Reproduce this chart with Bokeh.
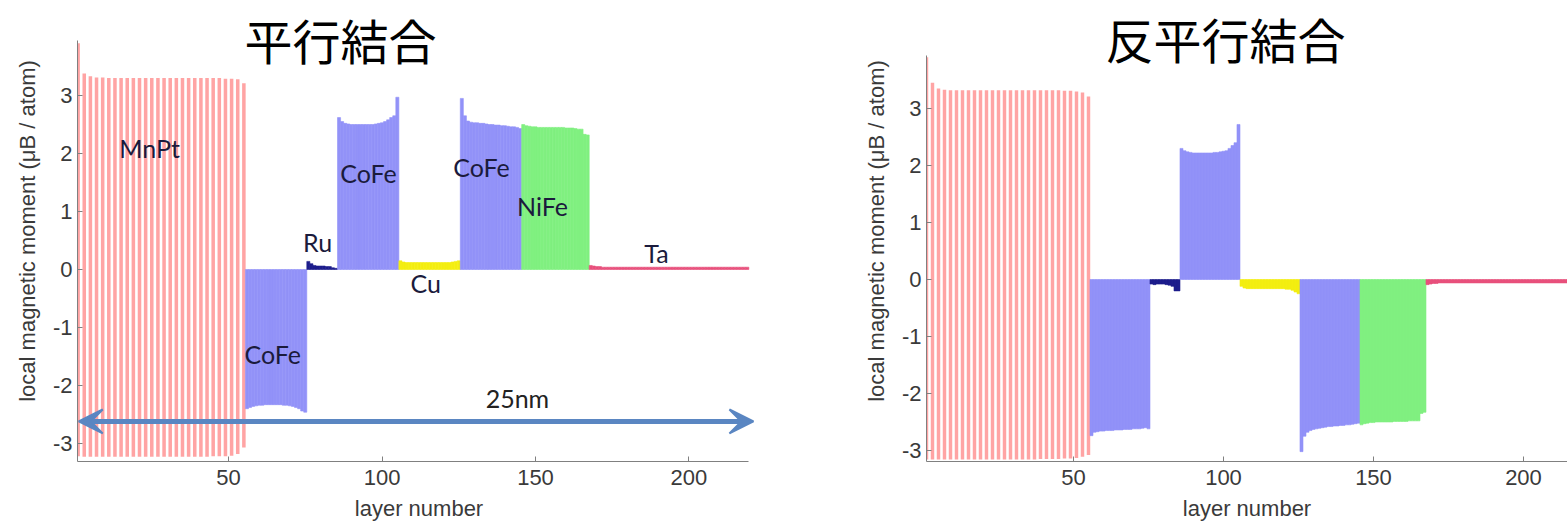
from bokeh.plotting import figure
from bokeh.layouts import row
from bokeh.models import Label, Arrow, VeeHead, FixedTicker, Range1d, PrintfTickFormatter
from bokeh.embed import file_html
from bokeh.resources import INLINE

# ---------------- data ----------------
x_ticks = [50, 100, 150, 200]
y_ticks = [-3, -2, -1, 0, 1, 2, 3]

# MnPt (Mn layers every other layer, up/down moments)
mnpt_layers = list(range(1, 56, 2))
mnpt_up_par = [3.90, 3.38, 3.33, 3.31, 3.31, 3.30, 3.30, 3.30, 3.30, 3.30, 3.30, 3.30, 3.30, 3.30,
               3.30, 3.30, 3.30, 3.30, 3.30, 3.30, 3.30, 3.30, 3.30, 3.30, 3.29, 3.29, 3.28, 3.21]
mnpt_dn_par = [-3.22, -3.23, -3.23, -3.23, -3.23, -3.23, -3.23, -3.23, -3.23, -3.23, -3.23, -3.23, -3.23, -3.23,
               -3.23, -3.23, -3.23, -3.23, -3.23, -3.23, -3.23, -3.23, -3.22, -3.22, -3.22, -3.21, -3.18, -3.07]
mnpt_up_anti = [3.90, 3.45, 3.35, 3.33, 3.32, 3.32, 3.32, 3.32, 3.32, 3.32, 3.32, 3.32, 3.32, 3.32,
                3.32, 3.32, 3.32, 3.32, 3.32, 3.32, 3.32, 3.32, 3.32, 3.31, 3.31, 3.30, 3.28, 3.21]
mnpt_dn_anti = [-3.16, -3.16, -3.16, -3.16, -3.16, -3.16, -3.16, -3.16, -3.16, -3.16, -3.16, -3.16, -3.16, -3.16,
                -3.16, -3.16, -3.16, -3.16, -3.16, -3.15, -3.15, -3.15, -3.15, -3.14, -3.14, -3.13, -3.11, -3.08]

# CoFe pinned layer
cofe1_layers = list(range(56, 76))
cofe1_par = [-2.40, -2.38, -2.36, -2.35, -2.34, -2.34, -2.33, -2.33, -2.33, -2.33,
             -2.33, -2.33, -2.34, -2.34, -2.35, -2.36, -2.38, -2.40, -2.44, -2.46]
cofe1_anti = [-2.74, -2.68, -2.67, -2.66, -2.66, -2.65, -2.65, -2.65, -2.64, -2.64,
              -2.64, -2.63, -2.63, -2.63, -2.62, -2.62, -2.62, -2.61, -2.60, -2.62]

# Ru spacer
ru_layers = list(range(76, 86))
ru_par = [0.14, 0.10, 0.07, 0.06, 0.06, 0.06, 0.05, 0.05, 0.03, 0.02]
ru_anti = [-0.08, -0.09, -0.08, -0.08, -0.08, -0.09, -0.10, -0.12, -0.20, -0.20]

# CoFe reference layer
cofe2_layers = list(range(86, 106))
cofe2_par = [2.62, 2.55, 2.52, 2.51, 2.50, 2.50, 2.50, 2.50, 2.50, 2.50,
             2.50, 2.50, 2.51, 2.52, 2.53, 2.55, 2.58, 2.62, 2.65, 2.97]
cofe2_anti = [2.30, 2.26, 2.24, 2.23, 2.22, 2.22, 2.22, 2.22, 2.22, 2.22,
              2.22, 2.23, 2.23, 2.24, 2.25, 2.26, 2.30, 2.35, 2.40, 2.72]

# Cu spacer
cu_layers = list(range(106, 126))
cu_par = [0.15, 0.13, 0.12, 0.12, 0.12, 0.12, 0.12, 0.12, 0.12, 0.12,
          0.12, 0.12, 0.12, 0.12, 0.12, 0.12, 0.12, 0.13, 0.14, 0.15]
cu_anti = [-0.12, -0.15, -0.16, -0.16, -0.16, -0.16, -0.16, -0.16, -0.16, -0.16,
           -0.16, -0.16, -0.16, -0.16, -0.16, -0.17, -0.17, -0.19, -0.22, -0.25]

# CoFe free layer
cofe3_layers = list(range(126, 146))
cofe3_par = [2.95, 2.65, 2.56, 2.54, 2.53, 2.53, 2.52, 2.52, 2.51, 2.50,
             2.50, 2.49, 2.49, 2.48, 2.48, 2.47, 2.46, 2.46, 2.45, 2.43]
cofe3_anti = [-3.02, -2.75, -2.68, -2.65, -2.63, -2.62, -2.61, -2.60, -2.59, -2.58,
              -2.58, -2.57, -2.57, -2.56, -2.56, -2.55, -2.55, -2.54, -2.53, -2.52]

# NiFe free layer
nife_layers = list(range(146, 168))
nife_par = [2.50, 2.48, 2.47, 2.46, 2.46, 2.45, 2.45, 2.45, 2.45, 2.45, 2.45,
            2.45, 2.45, 2.45, 2.44, 2.44, 2.44, 2.43, 2.42, 2.42, 2.33, 2.32]
nife_anti = [-2.55, -2.53, -2.52, -2.51, -2.51, -2.50, -2.50, -2.50, -2.50, -2.50, -2.50,
             -2.49, -2.49, -2.49, -2.49, -2.49, -2.48, -2.48, -2.48, -2.48, -2.35, -2.33]

# Ta cap
ta_layers = list(range(168, 220))
ta_par = [0.07, 0.06, 0.05, 0.05, 0.04, 0.04, 0.04, 0.04, 0.04, 0.04,
          0.04, 0.04, 0.04, 0.04, 0.04, 0.04, 0.04, 0.04, 0.04, 0.04,
          0.04, 0.04, 0.04, 0.04, 0.04, 0.04, 0.04, 0.04, 0.04, 0.04,
          0.04, 0.04, 0.04, 0.04, 0.04, 0.04, 0.04, 0.04, 0.04, 0.04,
          0.04, 0.04, 0.04, 0.04, 0.04, 0.04, 0.04, 0.04, 0.04, 0.04,
          0.04, 0.04]
ta_anti = [-0.09, -0.08, -0.07, -0.07, -0.06, -0.06, -0.06, -0.06, -0.06, -0.06,
           -0.06, -0.06, -0.06, -0.06, -0.06, -0.06, -0.06, -0.06, -0.06, -0.06,
           -0.06, -0.06, -0.06, -0.06, -0.06, -0.06, -0.06, -0.06, -0.06, -0.06,
           -0.06, -0.06, -0.06, -0.06, -0.06, -0.06, -0.06, -0.06, -0.06, -0.06,
           -0.06, -0.06, -0.06, -0.06, -0.06, -0.06, -0.06, -0.06, -0.06, -0.06,
           -0.06, -0.06]

titles = ["平行結合", "反平行結合"]
x_label = "layer number"
y_label = "local magnetic moment (μB / atom)"

# layer name labels (parallel panel): text, x, y
layer_labels = [("MnPt", 24.3, 2.10), ("CoFe", 64.4, -1.45), ("Ru", 79.0, 0.47),
                ("CoFe", 95.6, 1.66), ("Cu", 114.2, -0.24), ("CoFe", 132.4, 1.76),
                ("NiFe", 152.3, 1.10), ("Ta", 189.4, 0.29)]
span_text = "25nm"
span_start, span_end, span_y = 1.2, 221.0, -2.62

# ---------------- style ----------------
MNPT = "#ffa4a4"
COFE = "#9292f8"
RU = "#1c1c8c"
CU = "#f4ee10"
NIFE = "#80f080"
TA = "#e8507c"
ARROW = "#5a86c2"
TXT = "#1b1b3c"


def make_fig(width, x_range, x_bounds, y_range, y_bounds, mb_left, mb_right, data):
    p = figure(width=width, height=525, output_backend="svg", toolbar_location=None,
               x_range=Range1d(*x_range), y_range=Range1d(*y_range),
               min_border_left=mb_left, min_border_right=mb_right,
               min_border_top=0, min_border_bottom=64)
    p.outline_line_color = None
    p.grid.visible = False
    p.background_fill_color = "white"
    p.border_fill_color = "white"

    up, dn, c1, ru, c2, cu, c3, nf, ta = data
    p.vbar(x=mnpt_layers, top=up, bottom=dn, width=1.15, fill_color=MNPT, line_color=None)
    for layers, vals, col in [(cofe1_layers, c1, COFE), (ru_layers, ru, RU), (cofe2_layers, c2, COFE),
                              (cu_layers, cu, CU), (cofe3_layers, c3, COFE), (nife_layers, nf, NIFE),
                              (ta_layers, ta, TA)]:
        p.vbar(x=layers, top=vals, bottom=0, width=1.0, fill_color=col, line_color=col, line_width=0.6)

    p.xaxis.ticker = FixedTicker(ticks=x_ticks)
    p.yaxis.ticker = FixedTicker(ticks=y_ticks)
    p.yaxis.formatter = PrintfTickFormatter(format="%d")
    p.xaxis.bounds = x_bounds
    p.yaxis.bounds = y_bounds
    for ax in (p.xaxis, p.yaxis):
        ax.axis_line_color = "#808080"
        ax.major_tick_line_color = "#808080"
        ax.major_tick_in = 5
        ax.major_tick_out = 0
        ax.minor_tick_line_color = None
        ax.major_label_text_font = "Liberation Sans"
        ax.major_label_text_font_size = "22px"
        ax.major_label_text_color = "#3a3a3a"
        ax.axis_label_text_font = "Liberation Sans"
        ax.axis_label_text_font_size = "22px"
        ax.axis_label_text_font_style = "normal"
        ax.axis_label_text_color = "#3a3a3a"
    p.xaxis.axis_label = x_label
    p.yaxis.axis_label = y_label
    p.xaxis.major_label_standoff = 8
    p.xaxis.axis_label_standoff = 8
    p.yaxis.major_label_standoff = 5
    p.yaxis.axis_label_standoff = 10
    return p


p1 = make_fig(800, (0.8, 223.3), (0.8, 219.4), (-3.310, 4.638), (-3.310, 3.95), 77, 40,
              (mnpt_up_par, mnpt_dn_par, cofe1_par, ru_par, cofe2_par, cu_par, cofe3_par, nife_par, ta_par))
p2 = make_fig(767, (1.0, 214.67), (1.0, 214.67), (-3.193, 4.895), (-3.193, 3.93), 126, 0,
              (mnpt_up_anti, mnpt_dn_anti, cofe1_anti, ru_anti, cofe2_anti, cu_anti, cofe3_anti, nife_anti, ta_anti))

for txt, lx, ly in layer_labels:
    p1.add_layout(Label(x=lx, y=ly, text=txt, text_align="center", text_baseline="middle",
                        text_font="Lato", text_font_size="25px", text_color=TXT))

p1.add_layout(Arrow(x_start=span_start, y_start=span_y, x_end=span_end, y_end=span_y,
                    line_color=ARROW, line_width=5,
                    start=VeeHead(size=24, fill_color=ARROW, line_color=ARROW, line_width=2),
                    end=VeeHead(size=24, fill_color=ARROW, line_color=ARROW, line_width=2)))
p1.add_layout(Label(x=144.1, y=-2.21, text=span_text, text_align="center", text_baseline="middle",
                    text_font="Lato", text_font_size="25px", text_color="#222222"))

p1.add_layout(Label(x=86.5, y=3.98, text=titles[0], text_align="center", text_baseline="middle",
                    text_font="Noto Sans CJK JP", text_font_size="48px", text_color="black"))
p2.add_layout(Label(x=100.7, y=4.23, text=titles[1], text_align="center", text_baseline="middle",
                    text_font="Noto Sans CJK JP", text_font_size="48px", text_color="black"))

layout = row(p1, p2)
open("out.html", "w").write(file_html(layout, INLINE))
